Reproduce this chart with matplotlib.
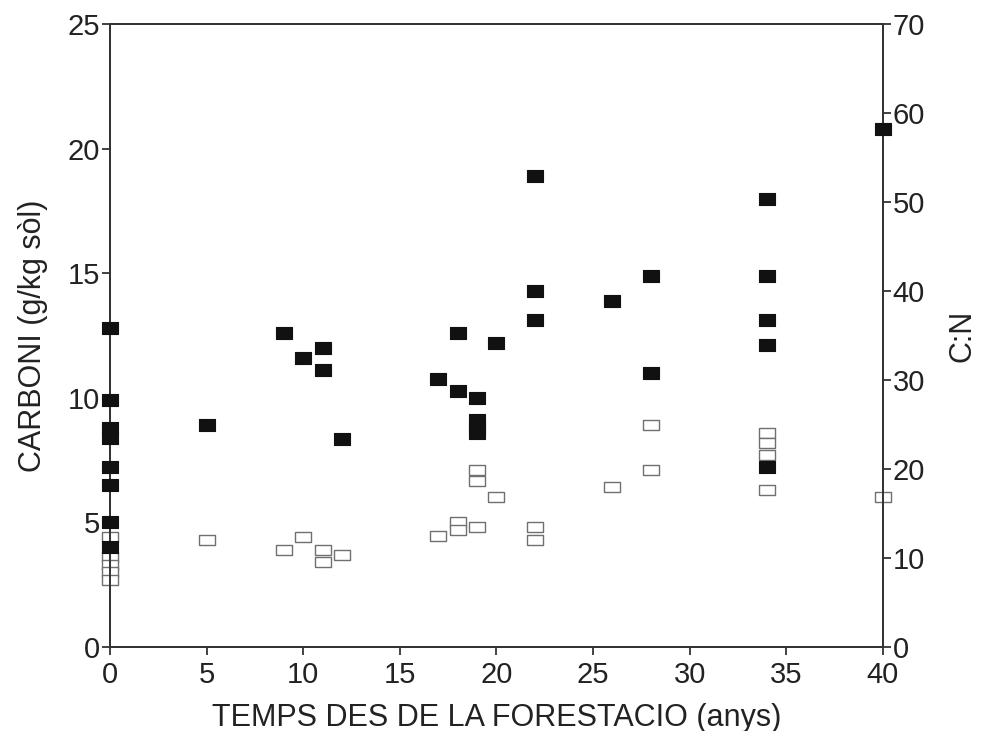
import matplotlib.pyplot as plt

plt.rcParams['font.family'] = ['Liberation Sans', 'DejaVu Sans']

# carboni del sòl (eix esquerre), quadrats buits
anys_c = [0, 0, 0, 0, 0, 5, 9, 10, 11, 11, 12, 17, 18, 18, 19, 19, 19, 20,
          22, 22, 26, 28, 28, 34, 34, 34, 34, 40]
carboni = [4.4, 3.6, 3.3, 3.0, 2.7, 4.3, 3.9, 4.4, 3.9, 3.4, 3.7, 4.45, 5.0, 4.7,
           7.1, 6.65, 4.8, 6.0, 4.8, 4.3, 6.4, 8.9, 7.1, 8.6, 8.2, 7.7, 6.3, 6.0]

# relació C:N (eix dret), quadrats plens
anys_cn = [0, 0, 0, 0, 0, 0, 0, 0, 5, 9, 10, 11, 11, 12, 17, 18, 18, 19, 19, 19,
           19, 20, 22, 22, 22, 26, 28, 28, 34, 34, 34, 34, 34, 40]
cn = [35.8, 27.7, 24.6, 23.5, 20.2, 18.2, 14.0, 11.2, 24.9, 35.3, 32.5, 33.6,
      31.1, 23.4, 30.1, 28.8, 35.3, 28.0, 25.5, 24.6, 24.1, 34.2, 52.9, 40.0,
      36.7, 38.9, 41.7, 30.8, 50.4, 41.7, 36.8, 33.9, 20.2, 58.2]

rect = [(-1, -0.68), (1, -0.68), (1, 0.68), (-1, 0.68), (-1, -0.68)]

fig = plt.figure(figsize=(9.83, 7.31), dpi=100)
ax = fig.add_axes([0.112, 0.115, 0.786, 0.852])
ax2 = ax.twinx()

ax.scatter(anys_c, carboni, marker=rect, s=130, facecolor='white',
           edgecolor='#707070', linewidth=1.0, zorder=3, clip_on=False)
ax2.scatter(anys_cn, cn, marker=rect, s=140, facecolor='#111111',
            edgecolor='#111111', linewidth=0.8, zorder=3, clip_on=False)

ax.set_xlim(0, 40)
ax.set_ylim(0, 25)
ax2.set_ylim(0, 70)
ax.set_xticks(range(0, 41, 5))
ax.set_yticks(range(0, 26, 5))
ax2.set_yticks(range(0, 71, 10))

for a in (ax, ax2):
    for s in a.spines.values():
        s.set_linewidth(1.4)
        s.set_color('#333333')
    a.tick_params(direction='out', length=6, width=1.3, labelsize=21,
                  color='#333333', labelcolor='#222222', pad=1)
ax.tick_params(axis='x', pad=4)

ax.set_xlabel('TEMPS DES DE LA FORESTACIO (anys)', fontsize=22, color='#222222',
              labelpad=10)
ax.set_ylabel('CARBONI (g/kg sòl)', fontsize=22, color='#222222', labelpad=14)
ax2.set_ylabel('C:N', fontsize=22, color='#222222', labelpad=16)

fig.savefig('out.png', dpi=100)
